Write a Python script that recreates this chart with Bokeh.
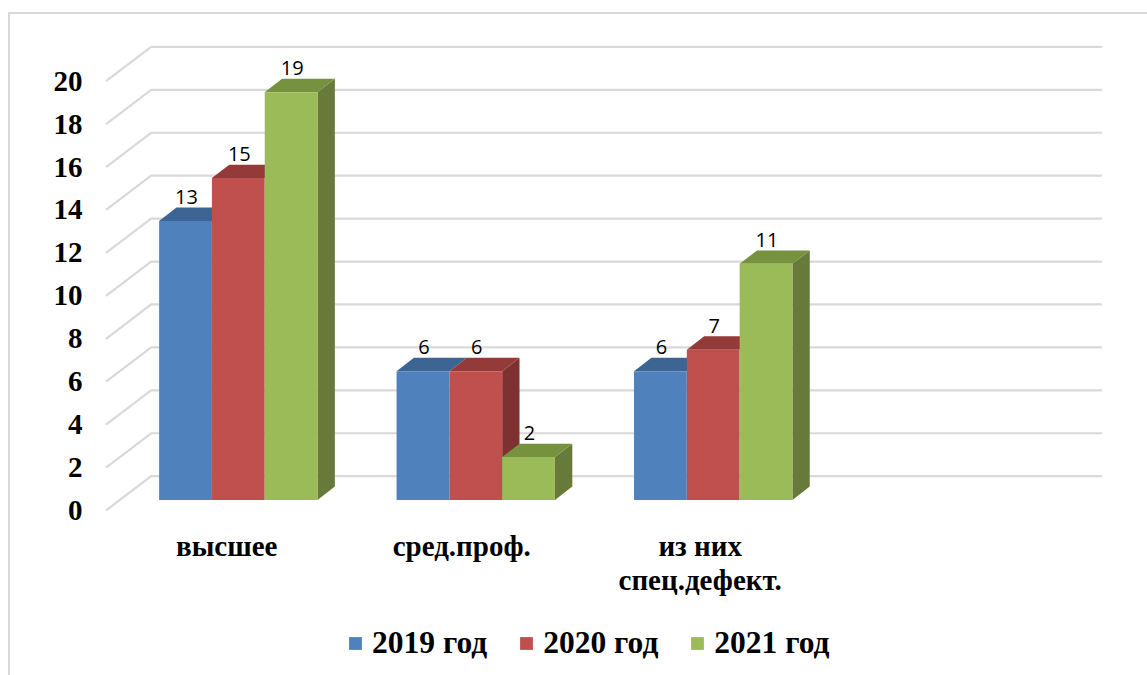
from bokeh.plotting import figure
from bokeh.embed import file_html
from bokeh.resources import INLINE
from bokeh.core.properties import value
from bokeh.models import Range1d, FixedTicker, Legend, LegendItem

categories = ["высшее", "сред.проф.", "из них\nспец.дефект."]
series_names = ["2019 год", "2020 год", "2021 год"]
v2019 = [13, 6, 6]
v2020 = [15, 6, 7]
v2021 = [19, 2, 11]
y_ticks = [0, 2, 4, 6, 8, 10, 12, 14, 16, 18, 20]

front_colors = ["#4f81bd", "#c0504d", "#9bbb59"]
top_colors = ["#3d6593", "#943b39", "#76923f"]
side_colors = ["#335480", "#7d3231", "#677a39"]
GRID = "#d9d9d9"
SERIF = "Liberation Serif"

# layout constants (page pixels)
UNIT = 21.4          # px per value unit
Y0 = 510.0           # page y of value 0 on the front wall edge
PAGE_L, PAGE_T = 11.5, 15.5
W, H = 1137, 661
LEFT = 82

def val(page_y):
    return (Y0 - page_y) / UNIT

p = figure(width=W, height=H, output_backend="svg", toolbar_location=None,
           x_range=Range1d(PAGE_L + LEFT, PAGE_L + W),
           y_range=Range1d(val(PAGE_T + H), val(PAGE_T)),
           min_border_left=LEFT, min_border_right=0, min_border_top=0, min_border_bottom=0,
           x_axis_type=None, outline_line_color=None)
p.styles = {"margin-left": "8px", "margin-top": "12px",
            "border-left": "2px solid " + GRID, "border-top": "2px solid " + GRID,
            "box-sizing": "content-box"}
p.xgrid.visible = False
p.ygrid.visible = False

# y axis
ax = p.yaxis[0]
ax.ticker = FixedTicker(ticks=y_ticks)
ax.axis_line_color = None
ax.major_tick_line_color = None
ax.minor_tick_line_color = None
ax.major_tick_out = 0
ax.major_tick_in = 0
ax.minor_tick_out = 0
ax.minor_tick_in = 0
ax.major_label_standoff = 10
ax.major_label_text_font = SERIF
ax.major_label_text_font_style = "bold"
ax.major_label_text_font_size = "29px"
ax.major_label_text_color = "#000000"

# 3D grid
GX0, GX1, GX2 = 107, 152, 1101
DEPTH = 34.2 / UNIT
for t in y_ticks:
    p.line([GX0, GX1, GX2], [t, t + DEPTH, t + DEPTH], line_color=GRID, line_width=2.2)

# bars
GROUP_X = [160, 397, 634]
BAR_W = 52.7
BDX = 17.3
BDY = 13.3 / UNIT
BASE = val(499.5)
all_series = [v2019, v2020, v2021]
legend_items = []
for s, (name, vals) in enumerate(zip(series_names, all_series)):
    fr = None
    for g, v in enumerate(vals):
        x0 = GROUP_X[g] + s * BAR_W
        x1 = x0 + BAR_W
        top = BASE + v
        # the side face only shows where the neighbour on the right is lower
        if s == len(all_series) - 1 or all_series[s + 1][g] < v:
            p.patch([x1, x1 + BDX, x1 + BDX, x1], [BASE, BASE + BDY, top + BDY, top],
                    fill_color=side_colors[s], line_color=None)
        p.patch([x0, x1, x1 + BDX, x0 + BDX], [top, top, top + BDY, top + BDY],
                fill_color=top_colors[s], line_color=None)
        r = p.quad(left=x0, right=x1, bottom=BASE, top=top,
                   fill_color=front_colors[s], line_color=None)
        fr = fr or r
        p.text([x0 + BAR_W / 2 + 1], [top + 24 / UNIT], text=[str(v)],
               text_font=value("Open Sans"), text_font_size="20px",
               text_color="#000000", text_align="center", text_baseline="middle")
    legend_items.append(LegendItem(label=name, renderers=[fr]))

# category labels
CAT_X = [227.5, 462, 700]
p.text(CAT_X, [val(529)] * 3, text=categories,
       text_font=value(SERIF), text_font_style="bold", text_font_size="29px",
       text_color="#000000", text_align="center", text_baseline="top", text_line_height=1.08)

# legend
leg = Legend(items=legend_items, orientation="horizontal",
             location=(255, 16), border_line_color=None, background_fill_alpha=0,
             glyph_width=16, glyph_height=16, label_standoff=9, spacing=31,
             padding=8, margin=0,
             label_text_font=SERIF, label_text_font_style="bold",
             label_text_font_size="31.5px", label_text_color="#000000")
p.add_layout(leg, "center")

open("out.html", "w").write(file_html(p, INLINE))
